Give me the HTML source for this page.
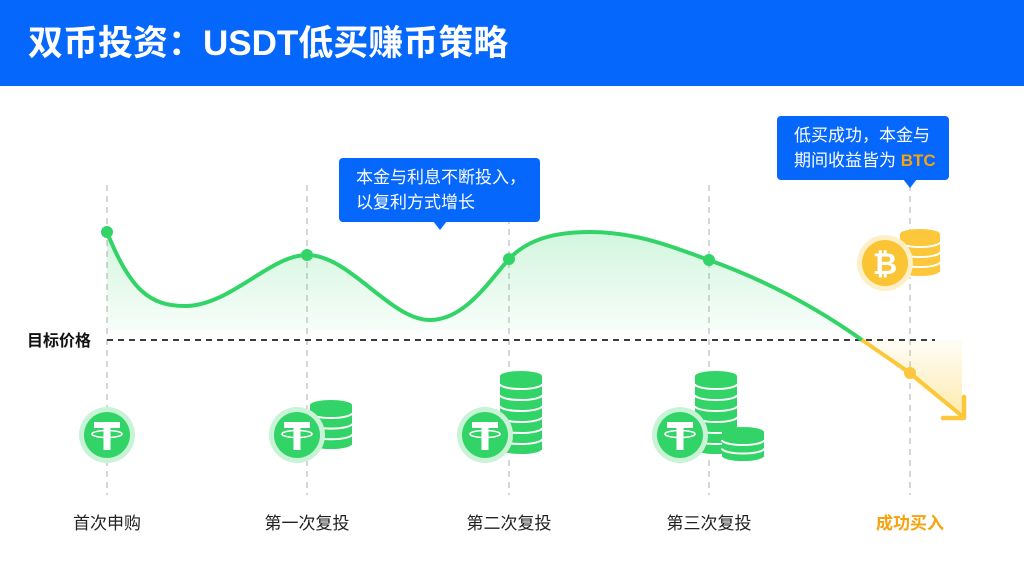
<!DOCTYPE html>
<html><head><meta charset="utf-8"><style>
html,body{margin:0;padding:0;background:#fff;}
body{width:1024px;height:571px;overflow:hidden;position:relative;font-family:"Liberation Sans","Noto Sans CJK SC",sans-serif;}
.hdr{position:absolute;left:0;top:0;width:1024px;height:86px;background:#0567fb;}
.hdr div{position:absolute;left:28px;top:21px;color:#fff;font-size:35px;font-weight:bold;line-height:46px;white-space:nowrap;}
.lbl{position:absolute;top:512px;width:140px;text-align:center;font-size:17px;color:#222;line-height:24px;}
.co{position:absolute;background:#0567fb;border-radius:4px;color:#fff;font-size:17px;line-height:25px;padding:7px 0 0 17px;box-sizing:border-box;white-space:nowrap;}
</style></head><body>
<div class="hdr"><div>双币投资：USDT低买赚币策略</div></div>
<svg width="1024" height="571" style="position:absolute;left:0;top:0">
<defs>
<linearGradient id="gf" x1="0" y1="0" x2="0" y2="1"><stop offset="0" stop-color="#33d467" stop-opacity="0.22"/><stop offset="1" stop-color="#33d467" stop-opacity="0.02"/></linearGradient>
<linearGradient id="yf" x1="0" y1="0" x2="0" y2="1"><stop offset="0" stop-color="#fcd24a" stop-opacity="0.05"/><stop offset="1" stop-color="#fcd24a" stop-opacity="0.45"/></linearGradient>
<g id="cg"><path d="M0 5 A21 5 0 0 1 42 5 V13 A21 5 0 0 1 0 13 Z" fill="#33d467"/><path d="M0 13 A21 5 0 0 0 42 13" fill="none" stroke="#fff" stroke-width="2"/></g>
<g id="cy"><path d="M0 5 A20 5 0 0 1 40 5 V13 A20 5 0 0 1 0 13 Z" fill="#fcc73a"/><path d="M0 13 A20 5 0 0 0 40 13" fill="none" stroke="#fff" stroke-width="2"/></g>
<g id="tether"><circle r="28" fill="#c9f3d6"/><circle r="23" fill="#33d467"/>
<rect x="-13" y="-13" width="26" height="6" fill="#fff"/><rect x="-3.5" y="-8" width="7" height="23" fill="#fff"/>
<ellipse cx="0" cy="-1" rx="15" ry="3.5" fill="none" stroke="#fff" stroke-width="1.6"/></g>
</defs>
<g stroke="#bbb" stroke-width="1.2" stroke-dasharray="6 5">
<line x1="107" y1="185" x2="107" y2="495"/><line x1="307" y1="185" x2="307" y2="495"/><line x1="509" y1="185" x2="509" y2="495"/><line x1="709" y1="185" x2="709" y2="495"/><line x1="910" y1="185" x2="910" y2="495"/>
</g>
<path d="M107 232 C130 290,150 306,185 306 C230 306,270 255,307 255 C350 255,390 320,430 320 C465 320,490 280,509 259 C530 237,560 232,590 232 C640 232,680 250,709 260 C770 282,820 310,862 340 L862 330 L107 330 Z" fill="url(#gf)"/>
<polygon points="862,340 962,340 962,418" fill="url(#yf)"/>
<line x1="107" y1="340" x2="935" y2="340" stroke="#222" stroke-width="1.8" stroke-dasharray="6 5"/>
<path d="M107 232 C130 290,150 306,185 306 C230 306,270 255,307 255 C350 255,390 320,430 320 C465 320,490 280,509 259 C530 237,560 232,590 232 C640 232,680 250,709 260 C770 282,820 310,862 340" fill="none" stroke="#33d467" stroke-width="4"/>
<path d="M862 340 L910 373 L962 416" fill="none" stroke="#fcc73a" stroke-width="4"/>
<path d="M943 418 L964 418 L964 397" fill="none" stroke="#fcc73a" stroke-width="4.5" stroke-linecap="round" stroke-linejoin="round"/>
<g fill="#33d467"><circle cx="107" cy="232" r="6"/><circle cx="307" cy="255" r="6"/><circle cx="509" cy="259" r="6"/><circle cx="709" cy="260" r="6"/></g>
<circle cx="910" cy="373" r="6" fill="#fcc73a"/>
<g transform="translate(310,0)"><use href="#cg" y="432"/><use href="#cg" y="421.3"/><use href="#cg" y="410.6"/><use href="#cg" y="400"/></g>
<g transform="translate(500,0)"><use href="#cg" y="437"/><use href="#cg" y="426"/><use href="#cg" y="415"/><use href="#cg" y="404"/><use href="#cg" y="393"/><use href="#cg" y="382"/><use href="#cg" y="371"/></g>
<g transform="translate(695,0)"><use href="#cg" y="437"/><use href="#cg" y="426"/><use href="#cg" y="415"/><use href="#cg" y="404"/><use href="#cg" y="393"/><use href="#cg" y="382"/><use href="#cg" y="371"/></g>
<g transform="translate(722,0)"><use href="#cg" y="444"/><use href="#cg" y="435.5"/><use href="#cg" y="427"/></g>
<g transform="translate(900,0)"><use href="#cy" y="259"/><use href="#cy" y="249"/><use href="#cy" y="239"/><use href="#cy" y="229"/></g>
<use href="#tether" x="107" y="435"/><use href="#tether" x="297" y="435"/><use href="#tether" x="485" y="435"/><use href="#tether" x="680" y="435"/>
<circle cx="885" cy="263" r="28" fill="#fdf0c8"/><circle cx="885" cy="263" r="23" fill="#fbc434"/>
<text x="885" y="274" text-anchor="middle" font-family="Liberation Sans,sans-serif" font-weight="bold" font-size="30" fill="#fff">₿</text>
<text x="27" y="346" font-family="Liberation Sans,Noto Sans CJK SC,sans-serif" font-weight="bold" font-size="16" fill="#111">目标价格</text>
</svg>
<div class="co" style="left:339px;top:158px;width:201px;height:64px;">本金与利息不断投入，<br>以复利方式增长</div>
<div class="co" style="left:777px;top:116px;width:172px;height:64px;">低买成功，本金与<br>期间收益皆为 <b style="color:#f5a30f">BTC</b></div>
<div style="position:absolute;left:433px;top:221px;width:0;height:0;border-left:7px solid transparent;border-right:7px solid transparent;border-top:9px solid #0567fb"></div>
<div style="position:absolute;left:903px;top:179px;width:0;height:0;border-left:7px solid transparent;border-right:7px solid transparent;border-top:9px solid #0567fb"></div>
<div class="lbl" style="left:37px">首次申购</div>
<div class="lbl" style="left:237px">第一次复投</div>
<div class="lbl" style="left:439px">第二次复投</div>
<div class="lbl" style="left:639px">第三次复投</div>
<div class="lbl" style="left:840px;color:#f5a30f;font-weight:bold">成功买入</div>
</body></html>
